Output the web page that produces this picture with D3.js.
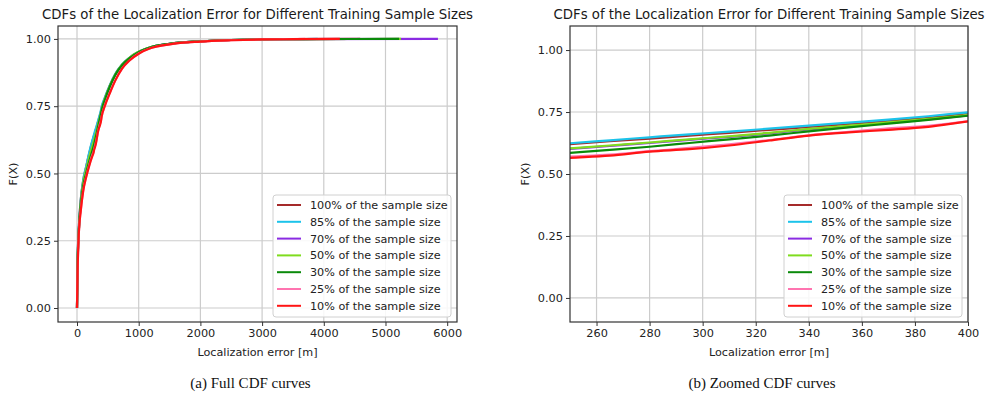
<!DOCTYPE html>
<html>
<head>
<meta charset="utf-8">
<script src="https://cdn.jsdelivr.net/npm/d3@7"></script>
<style>
body { margin: 0; background: #fff; }
svg { display: block; font-family: "DejaVu Sans", sans-serif; }
.caption { font-family: "Liberation Serif", "Times New Roman", serif; }
</style>
</head>
<body>
<div id="chart"></div>
<script>
var seriesNames = ["100% of the sample size", "85% of the sample size", "70% of the sample size",
	"50% of the sample size", "30% of the sample size", "25% of the sample size", "10% of the sample size"];
var seriesColors = ["#a52a2a", "#1cc3ea", "#8a2be2", "#7fdc1e", "#0a8a0a", "#ff74b0", "#ff1414"];

// localization error grid [m] shared by all series
var errGrid = [0, 10, 30, 60, 100, 150, 200,
	250, 265, 280, 295, 310, 325, 340, 355, 370, 385, 400,
	450, 535, 620, 730, 850, 1000, 1200, 1500, 2000, 2500, 3000, 3500];
// largest error of each series (CDF reaches 1 there)
var maxErr = [4590, 3900, 5850, 5250, 5220, 3700, 4260];

var cdf100 = [0, 0.17, 0.30, 0.40, 0.472, 0.526, 0.576,
	0.620, 0.632, 0.643, 0.655, 0.666, 0.678, 0.690, 0.702, 0.715, 0.727, 0.744,
	0.778, 0.828, 0.868, 0.904, 0.930, 0.952, 0.970, 0.982, 0.991, 0.996, 0.998, 0.999];
var cdf85 = [0, 0.17, 0.30, 0.40, 0.475, 0.528, 0.580,
	0.624, 0.636, 0.648, 0.660, 0.671, 0.683, 0.695, 0.707, 0.719, 0.733, 0.749,
	0.782, 0.830, 0.870, 0.905, 0.930, 0.952, 0.970, 0.982, 0.991, 0.996, 0.998, 0.999];
var cdf70 = [0, 0.17, 0.29, 0.39, 0.462, 0.514, 0.561,
	0.601, 0.613, 0.625, 0.638, 0.650, 0.664, 0.680, 0.693, 0.706, 0.720, 0.736,
	0.775, 0.826, 0.867, 0.903, 0.929, 0.951, 0.969, 0.982, 0.991, 0.996, 0.998, 0.999];
var cdf50 = [0, 0.17, 0.29, 0.39, 0.464, 0.516, 0.563,
	0.603, 0.615, 0.627, 0.640, 0.652, 0.666, 0.682, 0.695, 0.708, 0.722, 0.738,
	0.776, 0.827, 0.868, 0.904, 0.930, 0.952, 0.970, 0.982, 0.991, 0.996, 0.998, 0.999];
var cdf30 = [0, 0.16, 0.29, 0.38, 0.452, 0.502, 0.546,
	0.585, 0.597, 0.610, 0.625, 0.640, 0.655, 0.672, 0.688, 0.703, 0.718, 0.735,
	0.772, 0.824, 0.866, 0.902, 0.928, 0.951, 0.969, 0.982, 0.991, 0.996, 0.998, 0.999];
var cdf25 = [0, 0.14, 0.28, 0.36, 0.436, 0.490, 0.533,
	0.570, 0.578, 0.592, 0.605, 0.620, 0.637, 0.656, 0.670, 0.684, 0.694, 0.712,
	0.752, 0.802, 0.846, 0.890, 0.920, 0.946, 0.966, 0.980, 0.990, 0.995, 0.998, 0.999];
var cdf10 = [0, 0.14, 0.28, 0.36, 0.434, 0.488, 0.530,
	0.565, 0.574, 0.590, 0.600, 0.615, 0.635, 0.655, 0.668, 0.678, 0.690, 0.712,
	0.750, 0.800, 0.845, 0.890, 0.920, 0.945, 0.966, 0.980, 0.990, 0.995, 0.998, 0.999];
var cdfValues = [cdf100, cdf85, cdf70, cdf50, cdf30, cdf25, cdf10];

var fullTicks = [0, 1000, 2000, 3000, 4000, 5000, 6000];
var zoomTicks = [260, 280, 300, 320, 340, 360, 380, 400];
var yTicks = [0, 0.25, 0.5, 0.75, 1];

var chartTitle = "CDFs of the Localization Error for Different Training Sample Sizes";
var xTitle = "Localization error [m]";
var yTitle = "F(X)";

var svg = d3.select("#chart").append("svg")
	.attr("width", 987)
	.attr("height", 399);

function cdf_panel(svg, id, box, xDomain, yDomain, xTicks, caption) {
	this.svg = svg;
	this.id = id;
	this.box = box;
	this.xTicks = xTicks;
	this.caption = caption;
	this.x = d3.scaleLinear().domain(xDomain).range([box.left, box.right]);
	this.y = d3.scaleLinear().domain(yDomain).range([box.bottom, box.top]);
	this.init();
}

cdf_panel.prototype = {
	init : function() {
		var self = this;
		self.series = seriesNames.map(function(name, i) {
			var pts = errGrid.map(function(e, j) {
				return [e, cdfValues[i][j]];
			});
			pts.push([maxErr[i], 1]);
			return { name : name, color : seriesColors[i], points : pts };
		});
	},
	update : function() {
		var self = this;
		var b = self.box;
		var g = self.svg.append("g");

		g.append("clipPath").attr("id", self.id)
			.append("rect")
			.attr("x", b.left).attr("y", b.top)
			.attr("width", b.right - b.left).attr("height", b.bottom - b.top);

		// grid
		g.selectAll("line.gx").data(self.xTicks).enter().append("line")
			.attr("x1", function(d) { return self.x(d); })
			.attr("x2", function(d) { return self.x(d); })
			.attr("y1", b.top).attr("y2", b.bottom)
			.attr("stroke", "#cccccc").attr("stroke-width", 1.2);
		g.selectAll("line.gy").data(yTicks).enter().append("line")
			.attr("y1", function(d) { return self.y(d); })
			.attr("y2", function(d) { return self.y(d); })
			.attr("x1", b.left).attr("x2", b.right)
			.attr("stroke", "#cccccc").attr("stroke-width", 1.2);

		var line = d3.line()
			.curve(d3.curveMonotoneX)
			.x(function(d) { return self.x(d[0]); })
			.y(function(d) { return self.y(d[1]); });

		g.append("g").attr("clip-path", "url(#" + self.id + ")")
			.selectAll("path").data(self.series).enter().append("path")
			.attr("d", function(d) { return line(d.points); })
			.attr("fill", "none")
			.attr("stroke", function(d) { return d.color; })
			.attr("stroke-width", 2.2)
			.attr("stroke-linejoin", "round");

		// axes
		var xAxis = d3.axisBottom(self.x).tickValues(self.xTicks).tickFormat(d3.format("d"))
			.tickSizeOuter(0).tickSize(4).tickPadding(3);
		var yAxis = d3.axisLeft(self.y).tickValues(yTicks).tickFormat(d3.format(".2f"))
			.tickSizeOuter(0).tickSize(4).tickPadding(3);
		var ax = g.append("g").attr("transform", "translate(0," + b.bottom + ")").call(xAxis);
		var ay = g.append("g").attr("transform", "translate(" + b.left + ",0)").call(yAxis);
		[ax, ay].forEach(function(a) {
			a.select(".domain").remove();
			a.selectAll("line").attr("stroke", "#333");
			a.selectAll("text").attr("fill", "#222").style("font-size", "11.3px")
				.style("font-family", "DejaVu Sans, sans-serif");
		});

		g.append("rect")
			.attr("x", b.left).attr("y", b.top)
			.attr("width", b.right - b.left).attr("height", b.bottom - b.top)
			.attr("fill", "none").attr("stroke", "#333").attr("stroke-width", 1.2);

		var cx = (b.left + b.right) / 2;
		g.append("text").text(chartTitle)
			.attr("x", cx).attr("y", 19)
			.attr("text-anchor", "middle")
			.style("font-size", "13.3px").attr("fill", "#1a1a1a");
		g.append("text").text(xTitle)
			.attr("x", cx).attr("y", 356)
			.attr("text-anchor", "middle")
			.style("font-size", "11.2px").attr("fill", "#222");
		g.append("text").text(yTitle)
			.attr("transform", "translate(" + (b.left - 41) + "," + ((b.top + b.bottom) / 2) + ") rotate(-90)")
			.attr("text-anchor", "middle")
			.style("font-size", "11.2px").attr("fill", "#222");
		g.append("text").text(self.caption)
			.attr("class", "caption")
			.attr("x", cx - 7).attr("y", 388)
			.attr("text-anchor", "middle")
			.style("font-size", "15px").attr("fill", "#111");

		// legend
		var lg = g.append("g").attr("transform", "translate(" + (b.right - 184) + "," + (b.bottom - 127) + ")");
		lg.append("rect")
			.attr("width", 178).attr("height", 122)
			.attr("rx", 3)
			.attr("fill", "#fff").attr("fill-opacity", 0.85)
			.attr("stroke", "#d0d0d0");
		var rows = lg.selectAll("g.row").data(self.series).enter().append("g")
			.attr("class", "row")
			.attr("transform", function(d, i) { return "translate(0," + (10 + i * 16.8) + ")"; });
		rows.append("line")
			.attr("x1", 4).attr("x2", 28)
			.attr("stroke", function(d) { return d.color; })
			.attr("stroke-width", 2);
		rows.append("text").text(function(d) { return d.name; })
			.attr("x", 37).attr("y", 4)
			.style("font-size", "11.2px").attr("fill", "#222");
	}
};

var full = new cdf_panel(svg, "clipA", { left : 58, right : 457, top : 26, bottom : 322 },
	[-308, 6159], [-0.052, 1.048], fullTicks, "(a) Full CDF curves");
full.update();

var zoomed = new cdf_panel(svg, "clipB", { left : 570, right : 968, top : 26, bottom : 322 },
	[250, 400], [-0.097, 1.097], zoomTicks, "(b) Zoomed CDF curves");
zoomed.update();
</script>
</body>
</html>
